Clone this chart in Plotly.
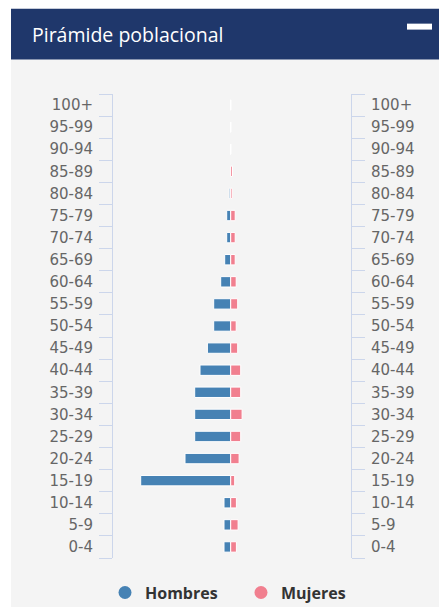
import plotly.graph_objects as go

# ---- data (bottom to top) ----
age_groups = ["0-4", "5-9", "10-14", "15-19", "20-24", "25-29", "30-34", "35-39",
              "40-44", "45-49", "50-54", "55-59", "60-64", "65-69", "70-74", "75-79",
              "80-84", "85-89", "90-94", "95-99", "100+"]
hombres = [67, 67, 67, 900, 457, 360, 360, 360, 307, 233, 170, 170, 100, 60, 40, 40,
           15, 0, 0, 0, 0]
mujeres = [57, 74, 57, 40, 84, 100, 114, 100, 100, 70, 55, 70, 55, 45, 45, 45,
           15, 18, 0, 0, 0]

title_text = "Pirámide poblacional"
series_names = ["Hombres", "Mujeres"]
colors = ["#4682b4", "#f17f8f"]

# the photographed page is ~622px tall and squeezed into 607px, so lay out on 622
K = 622 / 607
W, H = 439, 622
L, R = 113, 88
T = round(92 * K)
B = H - round(558 * K)
PW, PH = W - L - R, H - T - B


def px(x):
    return (x - L) / PW


def py(y):  # y given in reference pixels
    return (H - B - y * K) / PH


fig = go.Figure()
fig.add_trace(go.Bar(y=age_groups, x=[-v for v in hombres], orientation="h",
                     name=series_names[0], marker=dict(color=colors[0], line=dict(color="white", width=1)),
                     showlegend=False, legendgroup="h",
                     customdata=hombres, hovertemplate="%{y}: %{customdata}<extra>Hombres</extra>"))
fig.add_trace(go.Bar(y=age_groups, x=mujeres, orientation="h",
                     name=series_names[1], marker=dict(color=colors[1], line=dict(color="white", width=1)),
                     showlegend=False, legendgroup="m",
                     hovertemplate="%{y}: %{x}<extra>Mujeres</extra>"))
# legend entries with circle symbols
for nm, c, g in zip(series_names, colors, ["h", "m"]):
    fig.add_trace(go.Scatter(x=[None], y=[None], mode="markers", name=nm, legendgroup=g,
                             marker=dict(color=c, size=13, symbol="circle")))
# invisible trace for right axis
fig.add_trace(go.Scatter(x=[0] * len(age_groups), y=age_groups, yaxis="y2", mode="markers",
                         marker=dict(opacity=0), showlegend=False, hoverinfo="skip"))

axis_common = dict(type="category", categoryorder="array", categoryarray=age_groups,
                   range=[-0.5, len(age_groups) - 0.5], tickson="boundaries",
                   ticks="outside", ticklen=13, tickcolor="#ccd6eb", tickwidth=1,
                   showline=True, linecolor="#ccd6eb", linewidth=1, showgrid=False,
                   zeroline=False, fixedrange=True, ticklabelstandoff=16,
                   tickfont=dict(family="DejaVu Sans", size=15, color="#666666"))

fig.update_layout(
    width=W, height=H,
    margin=dict(l=L, r=R, t=T, b=B),
    paper_bgcolor="white", plot_bgcolor="rgba(0,0,0,0)",
    barmode="relative", bargap=0.53,
    xaxis=dict(range=[-1177, 1203], showticklabels=False, showgrid=False, zeroline=False,
               showline=False, ticks="", fixedrange=True),
    yaxis=dict(side="left", **axis_common),
    yaxis2=dict(side="right", overlaying="y", **axis_common),
    showlegend=True,
    legend=dict(orientation="h", x=px(105), xanchor="left", y=py(593), yanchor="middle",
                font=dict(family="Open Sans", size=16, color="#333333", weight="bold"),
                itemsizing="trace", entrywidth=91, bgcolor="rgba(0,0,0,0)"),
    shapes=[
        dict(type="rect", xref="paper", yref="paper", x0=px(11), x1=px(440), y0=py(57), y1=-B / PH - 0.01,
             fillcolor="#f4f4f4", line=dict(width=0), layer="below"),
        dict(type="rect", xref="paper", yref="paper", x0=px(11), x1=px(440), y0=py(6), y1=py(57),
             fillcolor="#1f376b", line=dict(width=0), layer="above"),
        dict(type="rect", xref="paper", yref="paper", x0=px(407), x1=px(432), y0=py(21), y1=py(27),
             fillcolor="white", line=dict(width=0), layer="above"),
    ],
    annotations=[
        dict(text=title_text, xref="paper", yref="paper", x=px(30), y=py(32), xanchor="left",
             yanchor="middle", showarrow=False, font=dict(family="Open Sans", size=19.5, color="white")),
    ],
)

fig.write_html("out.html", config={"displayModeBar": False},
               post_script="document.body.style.margin='0';document.body.style.overflow='hidden';")
